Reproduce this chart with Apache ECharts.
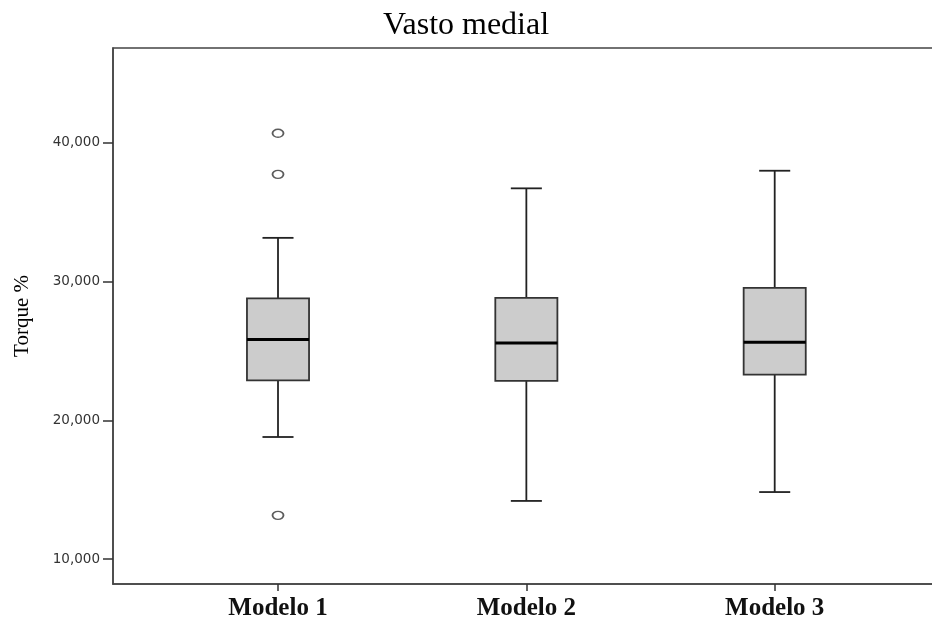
<!DOCTYPE html>
<html>
<head>
<meta charset="utf-8">
<script src="https://cdn.jsdelivr.net/npm/echarts@6/dist/echarts.min.js"></script>
<style>
  html, body { margin: 0; padding: 0; background: #fff; }
  #chart { width: 932px; height: 623px; }
</style>
</head>
<body>
<div id="chart"></div>
<script>
// values
var categories = ['Modelo 1', 'Modelo 2', 'Modelo 3'];
var lowerWhisker = [18800, 14190, 14830];
var q1 = [22890, 22840, 23300];
var median = [25830, 25580, 25640];
var q3 = [28790, 28830, 29550];
var upperWhisker = [33160, 36730, 38000];
var outlierModel = [0, 0, 0];
var outlierValue = [40700, 37740, 13150];
var yTicks = [10000, 20000, 30000, 40000];

var boxData = categories.map(function (c, i) {
  return [i, lowerWhisker[i], q1[i], median[i], q3[i], upperWhisker[i]];
});
var outlierData = outlierModel.map(function (m, i) {
  return [m, outlierValue[i]];
});

var chart = echarts.init(document.getElementById('chart'));

var option = {
  backgroundColor: '#fff',
  animation: false,
  title: {
    text: 'Vasto medial',
    left: 'center',
    top: 4,
    padding: [6, 5],
    textStyle: {
      fontFamily: 'Liberation Serif',
      fontSize: 32,
      fontWeight: 'normal',
      color: '#000'
    }
  },
  grid: {
    left: 113,
    top: 48,
    width: 850,
    height: 536,
    outerBoundsMode: 'none',
    containLabel: false,
    show: true,
    borderColor: '#444',
    borderWidth: 1.5,
    backgroundColor: 'transparent'
  },
  xAxis: {
    type: 'value',
    min: -0.6644,
    max: 2.7582,
    splitLine: { show: false },
    axisLine: { show: true, onZero: false, lineStyle: { color: '#444', width: 1.5 } },
    axisTick: {
      show: true,
      customValues: [0, 1, 2],
      length: 7,
      lineStyle: { color: '#333', width: 1.5 }
    },
    axisLabel: {
      customValues: [0, 1, 2],
      margin: 12,
      formatter: function (v) { return categories[Math.round(v)]; },
      fontFamily: 'Liberation Serif',
      fontSize: 25,
      fontWeight: 'bold',
      color: '#111'
    }
  },
  yAxis: {
    type: 'value',
    min: 8200,
    max: 46850,
    name: 'Torque %',
    nameLocation: 'middle',
    nameRotate: 90,
    nameGap: 80,
    nameTextStyle: {
      fontFamily: 'Liberation Serif',
      fontSize: 21,
      color: '#000'
    },
    splitLine: { show: false },
    axisLine: { show: true, onZero: false, lineStyle: { color: '#444', width: 1.5 } },
    axisTick: {
      show: true,
      customValues: yTicks,
      length: 10,
      lineStyle: { color: '#333', width: 1.5 }
    },
    axisLabel: {
      customValues: yTicks,
      margin: 13,
      formatter: function (v) { return v.toLocaleString('en-US'); },
      fontFamily: 'DejaVu Sans',
      fontSize: 13.5,
      color: '#333'
    }
  },
  series: [
    {
      type: 'custom',
      data: boxData,
      renderItem: function (params, api) {
        var x = api.value(0);
        var pLo = api.coord([x, api.value(1)]);
        var pQ1 = api.coord([x, api.value(2)]);
        var pMed = api.coord([x, api.value(3)]);
        var pQ3 = api.coord([x, api.value(4)]);
        var pHi = api.coord([x, api.value(5)]);
        var half = api.size([0.125, 0])[0];
        var cap = half / 2;
        var cx = pMed[0];
        var whisk = { stroke: '#222', lineWidth: 1.8 };
        return {
          type: 'group',
          children: [
            { type: 'line', shape: { x1: cx, y1: pHi[1], x2: cx, y2: pQ3[1] }, style: whisk },
            { type: 'line', shape: { x1: cx, y1: pQ1[1], x2: cx, y2: pLo[1] }, style: whisk },
            { type: 'line', shape: { x1: cx - cap, y1: pHi[1], x2: cx + cap, y2: pHi[1] }, style: whisk },
            { type: 'line', shape: { x1: cx - cap, y1: pLo[1], x2: cx + cap, y2: pLo[1] }, style: whisk },
            {
              type: 'rect',
              shape: { x: cx - half, y: pQ3[1], width: half * 2, height: pQ1[1] - pQ3[1] },
              style: { fill: '#cccccc', stroke: '#333', lineWidth: 1.8 }
            },
            {
              type: 'line',
              shape: { x1: cx - half, y1: pMed[1], x2: cx + half, y2: pMed[1] },
              style: { stroke: '#000', lineWidth: 3 }
            }
          ]
        };
      }
    },
    {
      type: 'scatter',
      data: outlierData,
      symbol: 'circle',
      symbolSize: [11, 8],
      itemStyle: { color: '#fff', borderColor: '#333', borderWidth: 1.6 }
    }
  ]
};

chart.setOption(option);
</script>
</body>
</html>
